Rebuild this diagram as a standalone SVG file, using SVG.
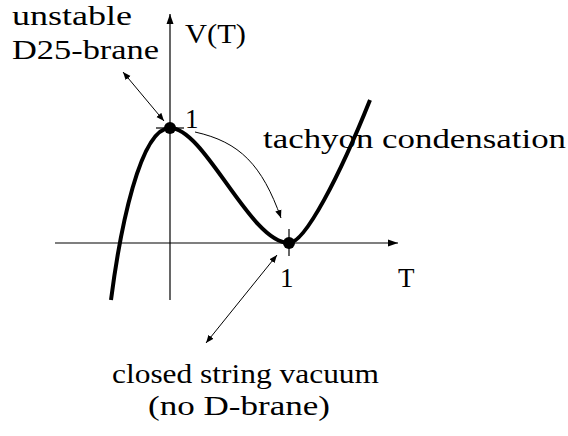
<svg xmlns="http://www.w3.org/2000/svg" width="568" height="436" viewBox="0 0 568 436">
<style>
text{font-family:"Liberation Serif","Times New Roman",serif;font-size:27px;fill:#000}
.ax{stroke:#000;stroke-width:1.2;fill:none}
.ar{stroke:#000;stroke-width:1;fill:none}
.cv{stroke:#000;stroke-width:4;fill:none;stroke-linecap:butt}
</style>
<defs>
<marker id="ah" viewBox="0 0 10 10" refX="10" refY="5" markerWidth="8" markerHeight="8" markerUnits="userSpaceOnUse" orient="auto-start-reverse">
<path d="M0,1 L10,5 L0,9 z" fill="#000"/>
</marker>
<marker id="ahA" viewBox="0 0 10 10" refX="10" refY="5" markerWidth="10" markerHeight="10" markerUnits="userSpaceOnUse" orient="auto">
<path d="M0,1.5 L10,5 L0,8.5 z" fill="#000"/>
</marker>
</defs>
<g id="axes">
<line class="ax" x1="170" y1="300" x2="170" y2="14" marker-end="url(#ahA)"/>
<line class="ax" x1="55" y1="243" x2="398" y2="243" marker-end="url(#ahA)"/>
<line class="ax" x1="156" y1="128" x2="184" y2="128"/>
<line class="ax" x1="289" y1="229" x2="289" y2="256"/>
</g>
<g id="labels">
<text x="12" y="25" textLength="120" lengthAdjust="spacingAndGlyphs">unstable</text>
<text x="12" y="59" textLength="147" lengthAdjust="spacingAndGlyphs">D25-brane</text>
<text x="185" y="43" textLength="61" lengthAdjust="spacingAndGlyphs">V(T)</text>
<text x="185" y="128">1</text>
<text x="263" y="148" textLength="303" lengthAdjust="spacingAndGlyphs">tachyon condensation</text>
<text x="280" y="287">1</text>
<text x="398" y="287">T</text>
<text x="112" y="383" textLength="267" lengthAdjust="spacingAndGlyphs">closed string vacuum</text>
<text x="148" y="415" textLength="182" lengthAdjust="spacingAndGlyphs">(no D-brane)</text>
</g>
<g id="potential">
<path class="cv" d="M111,300 C120,230 140,128 170,128 C205,128 250,243 289,243 C305,243 340,175 370,100"/>
</g>
<g id="n-max"><circle cx="170" cy="128" r="6"/></g>
<g id="n-min"><circle cx="289" cy="243" r="6"/></g>
<g id="connectors">
<line class="ar" x1="123" y1="72" x2="164" y2="121" marker-start="url(#ah)" marker-end="url(#ah)"/>
<path class="ar" d="M195,132 C240,142 262,165 281,218" marker-end="url(#ah)"/>
<line class="ar" x1="206" y1="343" x2="277" y2="255" marker-start="url(#ah)" marker-end="url(#ah)"/>
</g>
</svg>
